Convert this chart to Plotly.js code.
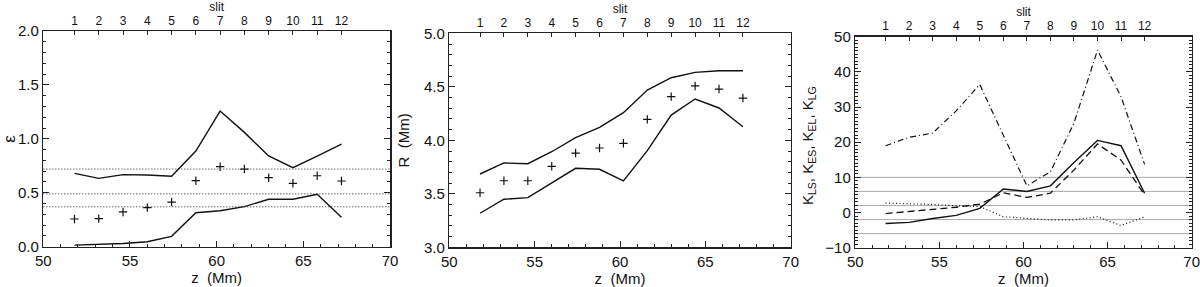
<!DOCTYPE html>
<html>
<head>
<meta charset="utf-8">
<script src="https://cdn.plot.ly/plotly-3.0.1.min.js"></script>
<style>html,body{margin:0;padding:0;background:#fff;}#chart{width:1200px;height:287px;}</style>
</head>
<body>
<div id="chart"></div>
<script>
// ---- data ----
const z = [51.8, 53.2, 54.6, 56.0, 57.4, 58.8, 60.2, 61.6, 63.0, 64.4, 65.8, 67.2];
const slitLabels = ['1','2','3','4','5','6','7','8','9','10','11','12'];

const epsUpper = [0.68, 0.634, 0.668, 0.665, 0.653, 0.887, 1.258, 1.06, 0.841, 0.733, 0.84, 0.95];
const epsMean  = [0.257, 0.26, 0.322, 0.362, 0.414, 0.612, 0.742, 0.72, 0.64, 0.588, 0.658, 0.609];
const epsLower = [0.015, 0.02, 0.03, 0.046, 0.096, 0.315, 0.334, 0.371, 0.44, 0.44, 0.486, 0.273];
const epsRef   = [0.72, 0.49, 0.37];

const rUpper = [3.685, 3.788, 3.781, 3.893, 4.024, 4.121, 4.258, 4.47, 4.585, 4.635, 4.65, 4.65];
const rMean  = [3.51, 3.622, 3.622, 3.757, 3.881, 3.928, 3.972, 4.196, 4.408, 4.508, 4.479, 4.395];
const rLower = [3.318, 3.449, 3.464, 3.598, 3.738, 3.729, 3.62, 3.903, 4.236, 4.386, 4.302, 4.127];

const kLS = [-3.1, -2.8, -1.7, -0.8, 1.2, 6.7, 6.0, 7.6, 14.2, 20.5, 19.0, 5.5];
const kES = [-0.3, 0.4, 0.9, 1.5, 2.4, 5.6, 4.3, 5.5, 12.1, 19.5, 14.9, 5.0];
const kEL = [2.7, 2.6, 2.3, 1.9, 1.7, -1.2, -1.7, -2.1, -2.1, -1.2, -3.7, -1.2];
const kLG = [19.0, 21.4, 22.6, 28.9, 36.4, 22.0, 7.6, 11.6, 25.4, 46.2, 32.9, 13.7];
const kRef = [10, 6, 2, -2, -6];

// ---- layout helpers ----
const W = 1200, H = 287;
const px = v => v / W;
const py = v => 1 - v / H;
const FONT = 'Liberation Sans, Arial, sans-serif';
const INK = '#111';
const AX = '#222';

function bottomAxis(dom, anchor) {
  return {
    domain: dom, anchor: anchor, range: [50, 70], dtick: 5, tick0: 50,
    ticks: 'inside', ticklen: 6, tickwidth: 1, tickcolor: AX,
    minor: {dtick: 1, ticks: 'inside', ticklen: 3, tickcolor: AX},
    showline: true, linecolor: AX, linewidth: 1.5, mirror: false,
    showgrid: false, zeroline: false, ticklabeloverflow: 'allow',
    tickfont: {family: FONT, size: 15, color: INK},
    title: {text: 'z  (Mm)', font: {family: FONT, size: 15, color: INK}, standoff: 3},
    fixedrange: true
  };
}
function topAxis(over, anchor) {
  return {
    overlaying: over, anchor: anchor, side: 'top', range: [50, 70],
    tickmode: 'array', tickvals: z, ticktext: slitLabels,
    ticks: 'inside', ticklen: 4, tickwidth: 1, tickcolor: AX,
    showline: true, linecolor: AX, linewidth: 1.5,
    showgrid: false, zeroline: false,
    tickfont: {family: FONT, size: 12, color: INK},
    title: {text: 'slit', font: {family: FONT, size: 12, color: INK}, standoff: 0},
    fixedrange: true
  };
}
function leftAxis(dom, anchor, range, dtick, minorDtick, fmt, title, tsize) {
  const ax = {
    domain: dom, anchor: anchor, range: range, dtick: dtick, tick0: range[0],
    tickformat: fmt,
    ticks: 'inside', ticklen: 6, tickwidth: 1, tickcolor: AX,
    minor: {dtick: minorDtick, ticks: 'inside', ticklen: 3, tickcolor: AX},
    showline: true, linecolor: AX, linewidth: 1.5, mirror: 'ticks',
    showgrid: false, zeroline: false, ticklabeloverflow: 'allow',
    tickfont: {family: FONT, size: 15, color: INK},
    fixedrange: true
  };
  if (title) ax.title = {text: title, font: {family: FONT, size: tsize, color: INK}};
  return ax;
}

const d1x = [px(43.3), px(390)],   d1y = [py(246.7), py(31)];
const d2x = [px(449.3), px(790.7)], d2y = [py(247.3), py(33.3)];
const d3x = [px(855.3), px(1191.7)], d3y = [py(247.7), py(36.7)];

const solid = {color: INK, width: 1.4};
const plus = {symbol: 'cross-thin', size: 6, color: INK, line: {color: INK, width: 1.2}};

const traces = [
  // panel 1
  {x: z, y: epsUpper, xaxis: 'x', yaxis: 'y', mode: 'lines', line: solid},
  {x: z, y: epsLower, xaxis: 'x', yaxis: 'y', mode: 'lines', line: solid},
  {x: z, y: epsMean, xaxis: 'x2', yaxis: 'y', mode: 'markers', marker: plus},
  // panel 2
  {x: z, y: rUpper, xaxis: 'x3', yaxis: 'y2', mode: 'lines', line: solid},
  {x: z, y: rLower, xaxis: 'x3', yaxis: 'y2', mode: 'lines', line: solid},
  {x: z, y: rMean, xaxis: 'x4', yaxis: 'y2', mode: 'markers', marker: plus},
  // panel 3
  {x: z, y: kLS, xaxis: 'x5', yaxis: 'y3', mode: 'lines', line: solid},
  {x: z, y: kES, xaxis: 'x5', yaxis: 'y3', mode: 'lines', line: {color: INK, width: 1.3, dash: '7px,4px'}},
  {x: z, y: kEL, xaxis: 'x6', yaxis: 'y3', mode: 'lines', line: {color: INK, width: 1.2, dash: '1px,2.5px'}},
  {x: z, y: kLG, xaxis: 'x5', yaxis: 'y3', mode: 'lines', line: {color: INK, width: 1.2, dash: '6px,3px,1px,3px'}}
];

const shapes = [];
epsRef.forEach(v => shapes.push({type: 'line', xref: 'x domain', yref: 'y', x0: 0, x1: 1, y0: v, y1: v,
  line: {color: '#222', width: 1, dash: '1px,2px'}, layer: 'below'}));
kRef.forEach(v => shapes.push({type: 'line', xref: 'x5 domain', yref: 'y3', x0: 0, x1: 1, y0: v, y1: v,
  line: {color: '#aaaaaa', width: 1}, layer: 'below'}));

const annotations = [
  {text: 'K<sub>LS</sub>, K<sub>ES</sub>, K<sub>EL</sub>, K<sub>LG</sub>', xref: 'paper', yref: 'paper',
   x: px(808), y: py(146), xanchor: 'center', yanchor: 'middle', textangle: -90, showarrow: false,
   font: {family: FONT, size: 15, color: INK}}
];

const layout = {
  width: W, height: H, margin: {l: 0, r: 0, t: 0, b: 0},
  paper_bgcolor: '#fff', plot_bgcolor: 'rgba(0,0,0,0)',
  showlegend: false, hovermode: false,
  font: {family: FONT, color: INK},
  xaxis: bottomAxis(d1x, 'y'),
  xaxis2: topAxis('x', 'y'),
  yaxis: leftAxis(d1y, 'x', [0, 2], 0.5, 0.1, '.1f', 'ε', 17),
  xaxis3: bottomAxis(d2x, 'y2'),
  xaxis4: topAxis('x3', 'y2'),
  yaxis2: leftAxis(d2y, 'x3', [3, 5], 0.5, 0.1, '.1f', 'R  (Mm)', 15),
  xaxis5: bottomAxis(d3x, 'y3'),
  xaxis6: topAxis('x5', 'y3'),
  yaxis3: leftAxis(d3y, 'x5', [-10, 50], 10, 1, 'd', null, 15),
  shapes: shapes,
  annotations: annotations
};

Plotly.newPlot('chart', traces, layout, {staticPlot: true, displayModeBar: false});
</script>
</body>
</html>
